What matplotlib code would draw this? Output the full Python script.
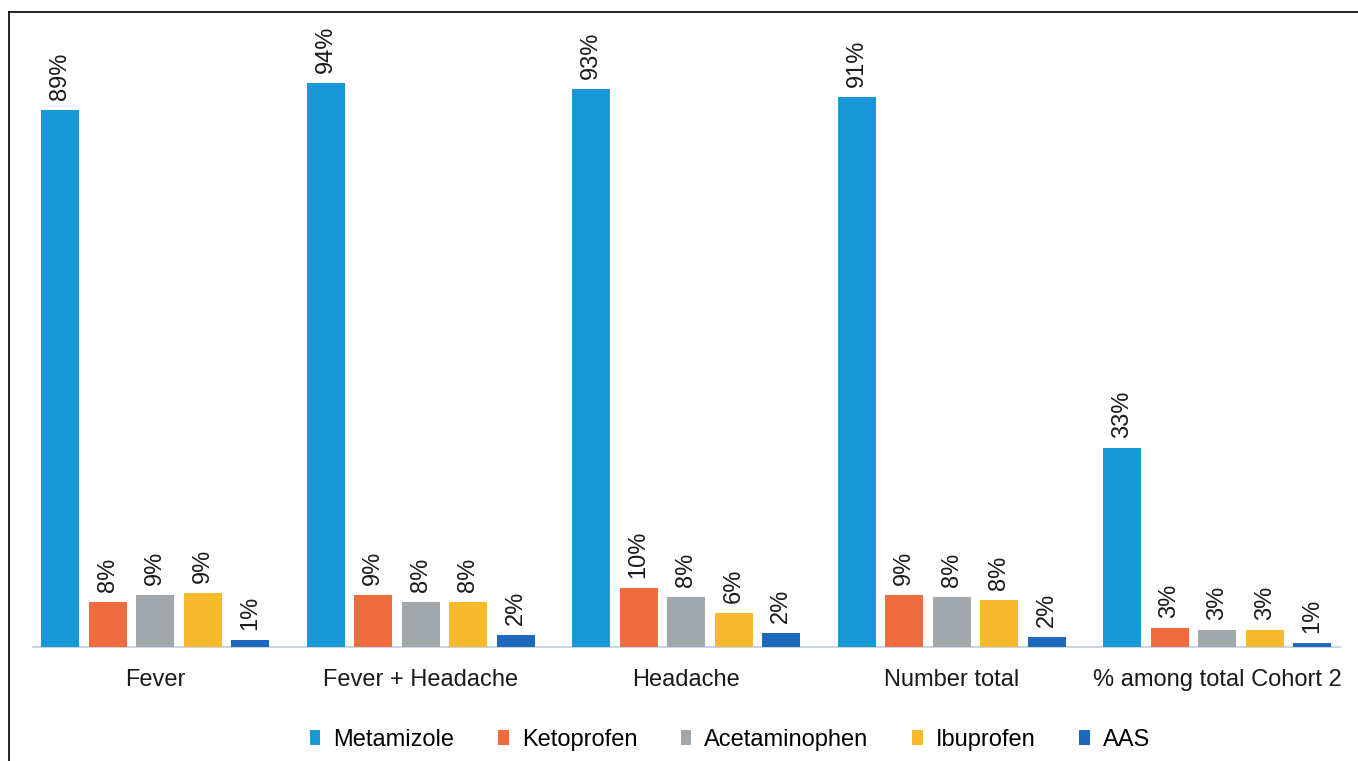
import matplotlib
matplotlib.use("Agg")
import matplotlib.pyplot as plt
from matplotlib.patches import Patch
from matplotlib.lines import Line2D
import numpy as np

plt.rcParams['font.family'] = ['Liberation Sans', 'DejaVu Sans']

# Data (percent)
groups = ["Fever", "Fever + Headache", "Headache", "Number total", "% among total Cohort 2"]
drugs = ["Metamizole", "Ketoprofen", "Acetaminophen", "Ibuprofen", "AAS"]
metamizole = [89.2, 93.7, 92.7, 91.3, 33.0]
ketoprofen = [7.5, 8.6, 9.8, 8.6, 3.2]
acetaminophen = [8.6, 7.5, 8.3, 8.3, 2.8]
ibuprofen = [9.0, 7.5, 5.6, 7.8, 2.8]
aas = [1.2, 2.0, 2.3, 1.7, 0.6]

series = [metamizole, ketoprofen, acetaminophen, ibuprofen, aas]
colors = ["#1898d6", "#ee6c3e", "#a2a7ac", "#f9b92c", "#1f69bd"]

fig = plt.figure(figsize=(13.58, 7.61), dpi=100)
ax = fig.add_axes([33/1358, 1 - 647/761, (1340 - 33)/1358, (647 - 12)/761])

x = np.arange(len(groups))
pitch = 0.179
width = 0.143
for i, (vals, col) in enumerate(zip(series, colors)):
    xs = x + (i - 2) * pitch
    ax.bar(xs, vals, width=width, color=col, zorder=3)
    for xi, v in zip(xs, vals):
        ax.text(xi, v + 1.7, f"{v:.0f}%", rotation=90, ha='center', va='bottom',
                fontsize=17, color='#1a1a1a')

ax.set_xlim(-0.46, 4.463)
ax.set_ylim(0, 105.5)
ax.set_yticks([])
ax.set_xticks(x)
ax.set_xticklabels(groups, fontsize=17, color='#1a1a1a')
ax.tick_params(axis='x', length=0, pad=16)
for s in ['top', 'right', 'left']:
    ax.spines[s].set_visible(False)
ax.spines['bottom'].set_color('#c9d5e6')
ax.spines['bottom'].set_linewidth(1.5)
ax.patch.set_alpha(0)

# Legend
handles = [Patch(facecolor=c, edgecolor='none', label=d) for d, c in zip(drugs, colors)]
fig.legend(handles=handles, loc='center', bbox_to_anchor=(730/1358, 1 - 740/761), ncol=5,
           frameon=False, fontsize=17, handlelength=0.45, handleheight=0.6,
           handletextpad=0.55, columnspacing=1.85)

# frame lines (left and top)
fig.add_artist(Line2D([9/1358, 9/1358], [0, 1 - 12/761], color='black', lw=1.2))
fig.add_artist(Line2D([9/1358, 1], [1 - 12/761, 1 - 12/761], color='black', lw=1.2))

fig.savefig("out.png", dpi=100)
